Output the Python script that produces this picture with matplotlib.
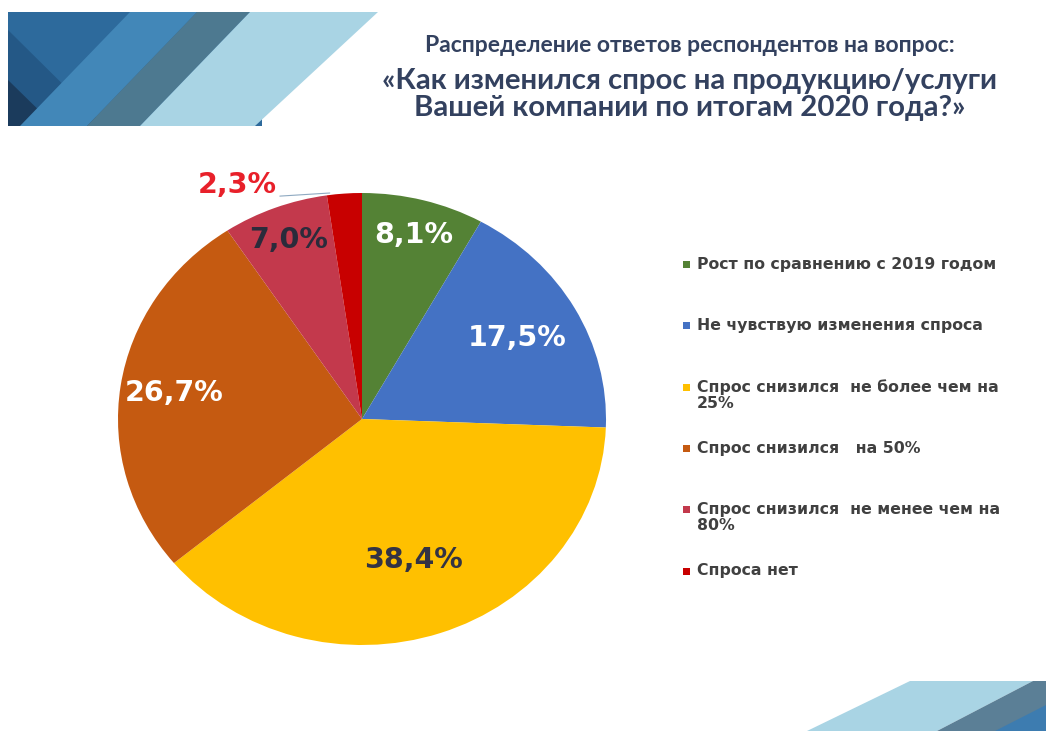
import numpy as np
import matplotlib.pyplot as plt
from matplotlib.patches import Polygon

# data
labels = ['Рост по сравнению с 2019 годом',
          'Не чувствую изменения спроса',
          'Спрос снизился  не более чем на\n25%',
          'Спрос снизился   на 50%',
          'Спрос снизился  не менее чем на\n80%',
          'Спроса нет']
values = [8.1, 17.5, 38.4, 26.7, 7.0, 2.3]
pct_text = ['8,1%', '17,5%', '38,4%', '26,7%', '7,0%', '2,3%']

title1 = 'Распределение ответов респондентов на вопрос:'
title2 = '«Как изменился спрос на продукцию/услуги'
title3 = 'Вашей компании по итогам 2020 года?»'

colors = ['#548235', '#4472C4', '#FFC000', '#C55A11', '#C3394C', '#C80000']
pct_colors = ['white', 'white', '#333344', 'white', '#2B2B3B', '#E8202A']
pct_dist = [0.84, 0.73, 0.66, 0.78, 0.85]

W, H = 1046, 731
fig = plt.figure(figsize=(W / 100, H / 100), dpi=100)

# background decoration, pixel coordinates
bg = fig.add_axes([0, 0, 1, 1])
bg.set_xlim(0, W)
bg.set_ylim(H, 0)
bg.axis('off')

shapes = [
    ([(8, 12), (262, 12), (262, 126), (8, 126)], '#2D6A9C'),
    ([(8, 30), (105, 126), (8, 126)], '#245886'),
    ([(8, 80), (55, 126), (8, 126)], '#1B3B5C'),
    ([(130, 12), (197, 12), (87, 126), (20, 126)], '#4287B8'),
    ([(197, 12), (250, 12), (140, 126), (87, 126)], '#4D7990'),
    ([(250, 12), (378, 12), (255, 126), (140, 126)], '#A9D4E4'),
    ([(910, 681), (1033, 681), (937, 731), (807, 731)], '#A9D4E4'),
    ([(1033, 681), (1046, 681), (1046, 731), (937, 731)], '#5B7F96'),
    ([(1046, 705), (1046, 731), (995, 731)], '#3D7CB0'),
]
for pts, c in shapes:
    bg.add_patch(Polygon(pts, closed=True, facecolor=c, edgecolor='none'))

# titles
tcol = '#33415F'
bg.text(690, 45, title1, ha='center', va='center', fontsize=16.5,
        fontweight='bold', color=tcol, family='Lato')
bg.text(690, 81, title2, ha='center', va='center', fontsize=21.2,
        fontweight='bold', color=tcol, family='Lato')
bg.text(690, 108, title3, ha='center', va='center', fontsize=21.2,
        fontweight='bold', color=tcol, family='Lato')

# legend drawn by hand
for i, lab in enumerate(labels):
    y = 265 + i * 61.3
    bg.add_patch(Polygon([(683, y - 4), (690, y - 4), (690, y + 3), (683, y + 3)],
                         closed=True, facecolor=colors[i], edgecolor='none'))
    bg.text(697, y - 8, lab, ha='left', va='top', fontsize=11.3,
            fontweight='bold', color='#404040', linespacing=1.05)

# pie
cx, cy, rx, ry = 362, 419, 244, 226
ax = fig.add_axes([(cx - rx) / W, (H - cy - ry) / H, 2 * rx / W, 2 * ry / H])
wedges, _ = ax.pie(values, colors=colors, startangle=90, counterclock=False,
                   wedgeprops=dict(edgecolor='none', linewidth=0))
ax.set_aspect('auto')
ax.set_xlim(-1, 1)
ax.set_ylim(-1, 1)
ax.axis('off')

for i, w in enumerate(wedges[:-1]):
    ang = np.deg2rad((w.theta1 + w.theta2) / 2)
    r = pct_dist[i]
    ax.text(r * np.cos(ang), r * np.sin(ang), pct_text[i], ha='center',
            va='center', fontsize=20.5, fontweight='bold', color=pct_colors[i])

# small slice label outside with leader line
w = wedges[-1]
ang = np.deg2rad((w.theta1 + w.theta2) / 2)
ax.annotate(pct_text[-1], xy=(np.cos(ang) - 0.06, 1.0),
            xytext=(-0.51, 1.035), ha='center', va='center', fontsize=20.5,
            fontweight='bold', color=pct_colors[-1], annotation_clip=False,
            arrowprops=dict(arrowstyle='-', color='#8EA9C1', lw=0.8,
                            relpos=(1.0, 0.1), shrinkA=0, shrinkB=0))

fig.savefig('out.png', dpi=100)
